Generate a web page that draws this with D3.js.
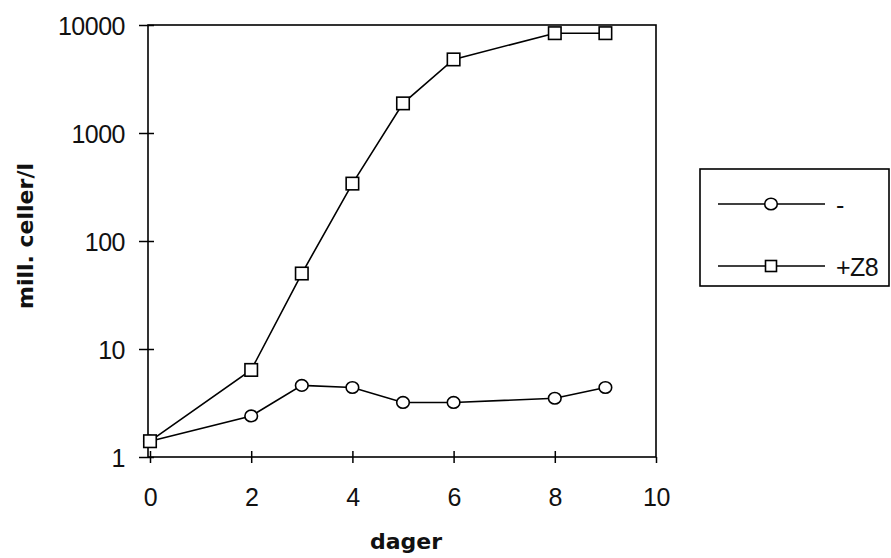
<!DOCTYPE html>
<html>
<head>
<meta charset="utf-8">
<script src="https://cdn.jsdelivr.net/npm/d3@7"></script>
<style>
  html, body { margin: 0; padding: 0; background: #fff; }
  svg { display: block; }
</style>
</head>
<body>
<svg id="chart" width="891" height="558"></svg>
<script>
// ---- data ----
const days = [0, 2, 3, 4, 5, 6, 8, 9];
const seriesMinus = [1.4, 2.4, 4.6, 4.4, 3.2, 3.2, 3.5, 4.4];
const seriesZ8 = [1.4, 6.4, 50, 340, 1880, 4800, 8400, 8400];
const seriesNames = ["-", "+Z8"];
const xTicks = [0, 2, 4, 6, 8, 10];
const yTicks = [1, 10, 100, 1000, 10000];
const xTitle = "dager";
const yTitle = "mill. celler/l";

// ---- layout ----
const svg = d3.select("#chart");
const L = 150, R = 656, T = 25, B = 457;
const x = d3.scaleLinear().domain([0, 10]).range([L, R]);
const y = d3.scaleLog().domain([1, 10000]).range([B, T]);
const labelFont = "'Liberation Sans', Arial, sans-serif";
const boldFont = "'DejaVu Sans', sans-serif";

// frame
svg.append("rect").attr("x", L - 2).attr("y", T).attr("width", R - L + 2).attr("height", B - T)
  .attr("fill", "none").attr("stroke", "#000").attr("stroke-width", 1.6);

// y axis ticks + labels
const yAxis = d3.axisLeft(y).tickValues(yTicks).tickFormat(d3.format("d"))
  .tickSizeInner(9).tickSizeOuter(0).tickPadding(14);
const gy = svg.append("g").attr("transform", `translate(${L - 2},0)`).call(yAxis);
gy.select(".domain").remove();
gy.selectAll(".tick line").attr("stroke", "#000").attr("stroke-width", 1.5).attr("x2", -9).attr("x1", 6);
gy.selectAll(".tick text").attr("font-family", labelFont).attr("font-size", 25).attr("fill", "#111")
  .attr("dy", "0.36em").attr("letter-spacing", "-0.5");

// x axis ticks + labels
const xAxis = d3.axisBottom(x).tickValues(xTicks).tickFormat(d3.format("d"))
  .tickSizeInner(6).tickSizeOuter(0).tickPadding(25);
const gx = svg.append("g").attr("transform", `translate(0,${B})`).call(xAxis);
gx.select(".domain").remove();
gx.selectAll(".tick line").attr("stroke", "#000").attr("stroke-width", 1.5)
  .attr("y1", d => d === 10 ? 0 : -6).attr("y2", 6);
gx.selectAll(".tick text").attr("font-family", labelFont).attr("font-size", 25).attr("fill", "#111")
  .attr("letter-spacing", "-0.5");

// titles
svg.append("text").attr("x", 406).attr("y", 549).attr("text-anchor", "middle")
  .attr("font-family", boldFont).attr("font-weight", "bold").attr("font-size", 22).attr("fill", "#111")
  .text(xTitle);
svg.append("text").attr("transform", "translate(33,236) rotate(-90)").attr("text-anchor", "middle")
  .attr("font-family", boldFont).attr("font-weight", "bold").attr("font-size", 22).attr("fill", "#111")
  .text(yTitle);

// lines
const line = d3.line().x((d, i) => x(days[i])).y(d => y(d));
svg.append("path").datum(seriesMinus).attr("d", line).attr("fill", "none").attr("stroke", "#000").attr("stroke-width", 1.6);
svg.append("path").datum(seriesZ8).attr("d", line).attr("fill", "none").attr("stroke", "#000").attr("stroke-width", 1.6);

// markers
svg.append("g").selectAll("ellipse").data(seriesMinus).join("ellipse")
  .attr("cx", (d, i) => x(days[i])).attr("cy", d => y(d)).attr("rx", 6.3).attr("ry", 5.8)
  .attr("fill", "#fff").attr("stroke", "#000").attr("stroke-width", 1.6);
const s = 12.5;
svg.append("g").selectAll("rect").data(seriesZ8).join("rect")
  .attr("x", (d, i) => x(days[i]) - s / 2).attr("y", d => y(d) - s / 2).attr("width", s).attr("height", s)
  .attr("fill", "#fff").attr("stroke", "#000").attr("stroke-width", 1.6);

// legend
const lg = svg.append("g");
lg.append("rect").attr("x", 700).attr("y", 169).attr("width", 189).attr("height", 117)
  .attr("fill", "none").attr("stroke", "#000").attr("stroke-width", 1.6);
const rows = [204, 266];
rows.forEach((ry, i) => {
  lg.append("line").attr("x1", 718).attr("x2", 825).attr("y1", ry).attr("y2", ry)
    .attr("stroke", "#000").attr("stroke-width", 1.5);
  if (i === 0) {
    lg.append("ellipse").attr("cx", 771).attr("cy", ry).attr("rx", 6.3).attr("ry", 5.8)
      .attr("fill", "#fff").attr("stroke", "#000").attr("stroke-width", 1.6);
  } else {
    lg.append("rect").attr("x", 771 - 5.5).attr("y", ry - 5.5).attr("width", 11).attr("height", 11)
      .attr("fill", "#fff").attr("stroke", "#000").attr("stroke-width", 1.6);
  }
  lg.append("text").attr("x", 836).attr("y", ry + 10).attr("font-family", labelFont)
    .attr("font-size", 25).attr("fill", "#111").attr("letter-spacing", "-0.5").text(seriesNames[i]);
});
</script>
</body>
</html>
